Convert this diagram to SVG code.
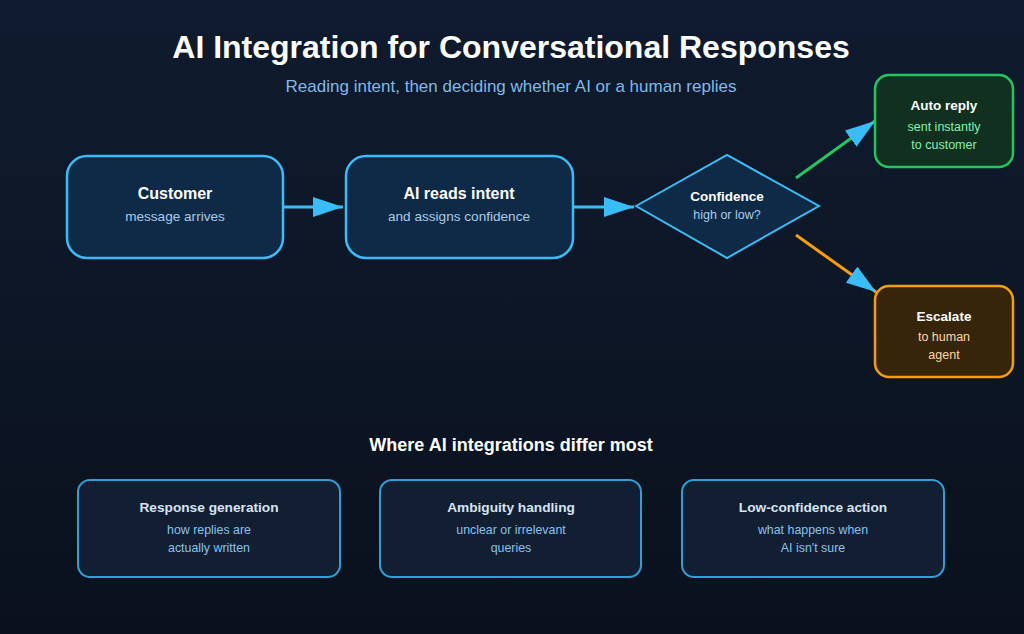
<svg xmlns="http://www.w3.org/2000/svg" width="1024" height="634" viewBox="0 0 1024 634">
<defs>
<linearGradient id="bg" x1="0" y1="0" x2="0" y2="1">
<stop offset="0" stop-color="#0f1b2e"/>
<stop offset="1" stop-color="#0a111d"/>
</linearGradient>
<marker id="ah" viewBox="0 0 30 20" refX="30" refY="10" markerWidth="30" markerHeight="20" markerUnits="userSpaceOnUse" orient="auto">
<path d="M0,0 L30,10 L0,20 Z" fill="#38bdf8"/>
</marker>
<style>
text{font-family:"Liberation Sans",Arial,sans-serif;text-anchor:middle}
.title{font-size:32px;font-weight:bold;fill:#ffffff}
.sub{font-size:17px;fill:#7fb9e6}
.node{fill:#0f2a47;stroke:#38bdf8;stroke-width:2.5}
.nt{font-size:16px;font-weight:bold;fill:#ffffff}
.ns{font-size:13.6px;fill:#a9cbe8}
.dt{font-size:13.5px;font-weight:bold;fill:#ffffff}
.ds{font-size:12.5px;fill:#a9cbe8}
.conn{stroke:#38bdf8;stroke-width:3;fill:none}
.card{fill:#121e31;stroke:#2f9fd6;stroke-width:2}
.ct{font-size:13.7px;font-weight:bold;fill:#d6e4f2}
.cs{font-size:12.4px;fill:#86c3ec}
</style>
</defs>
<rect width="1024" height="634" fill="url(#bg)"/>
<text class="title" x="511" y="58">AI Integration for Conversational Responses</text>
<text class="sub" x="511" y="92">Reading intent, then deciding whether AI or a human replies</text>

<g id="connectors">
<line class="conn" x1="284" y1="207" x2="343" y2="207" marker-end="url(#ah)"/>
<line class="conn" x1="574" y1="207" x2="634" y2="207" marker-end="url(#ah)"/>
<line class="conn" style="stroke:#22c55e" x1="796" y1="178" x2="875" y2="121" marker-end="url(#ah)"/>
<line class="conn" style="stroke:#f59e0b" x1="796" y1="235" x2="876" y2="292" marker-end="url(#ah)"/>
</g>

<g id="customer">
<rect class="node" x="67" y="156" width="216" height="102" rx="20"/>
<text class="nt" x="175" y="199">Customer</text>
<text class="ns" x="175" y="221">message arrives</text>
</g>
<g id="ai-reads-intent">
<rect class="node" x="346" y="156" width="227" height="102" rx="20"/>
<text class="nt" x="459" y="199">AI reads intent</text>
<text class="ns" x="459" y="221">and assigns confidence</text>
</g>
<g id="confidence">
<polygon class="node" style="stroke-width:2" points="636,206 727,155 819,206 727,258"/>
<text class="dt" x="727" y="201">Confidence</text>
<text class="ds" x="727" y="219">high or low?</text>
</g>
<g id="auto-reply">
<rect x="875" y="75" width="138" height="92" rx="14" fill="#12301f" stroke="#22c55e" stroke-width="2.5"/>
<text class="dt" x="944" y="110">Auto reply</text>
<text x="944" y="131" style="font-size:12.5px;fill:#86efac">sent instantly</text>
<text x="944" y="149" style="font-size:12.5px;fill:#86efac">to customer</text>
</g>
<g id="escalate">
<rect x="875" y="286" width="138" height="91" rx="14" fill="#36250b" stroke="#f59e0b" stroke-width="2.5"/>
<text class="dt" x="944" y="321">Escalate</text>
<text x="944" y="341" style="font-size:12.5px;fill:#fcd9a0">to human</text>
<text x="944" y="359" style="font-size:12.5px;fill:#fcd9a0">agent</text>
</g>

<text x="511" y="451" style="font-size:18px;font-weight:bold;fill:#ffffff">Where AI integrations differ most</text>

<g id="response-generation">
<rect class="card" x="78" y="480" width="262" height="97" rx="12"/>
<text class="ct" x="209" y="512">Response generation</text>
<text class="cs" x="209" y="534">how replies are</text>
<text class="cs" x="209" y="552">actually written</text>
</g>
<g id="ambiguity-handling">
<rect class="card" x="380" y="480" width="261" height="97" rx="12"/>
<text class="ct" x="511" y="512">Ambiguity handling</text>
<text class="cs" x="511" y="534">unclear or irrelevant</text>
<text class="cs" x="511" y="552">queries</text>
</g>
<g id="low-confidence-action">
<rect class="card" x="682" y="480" width="262" height="97" rx="12"/>
<text class="ct" x="813" y="512">Low-confidence action</text>
<text class="cs" x="813" y="534">what happens when</text>
<text class="cs" x="813" y="552">AI isn't sure</text>
</g>
</svg>
